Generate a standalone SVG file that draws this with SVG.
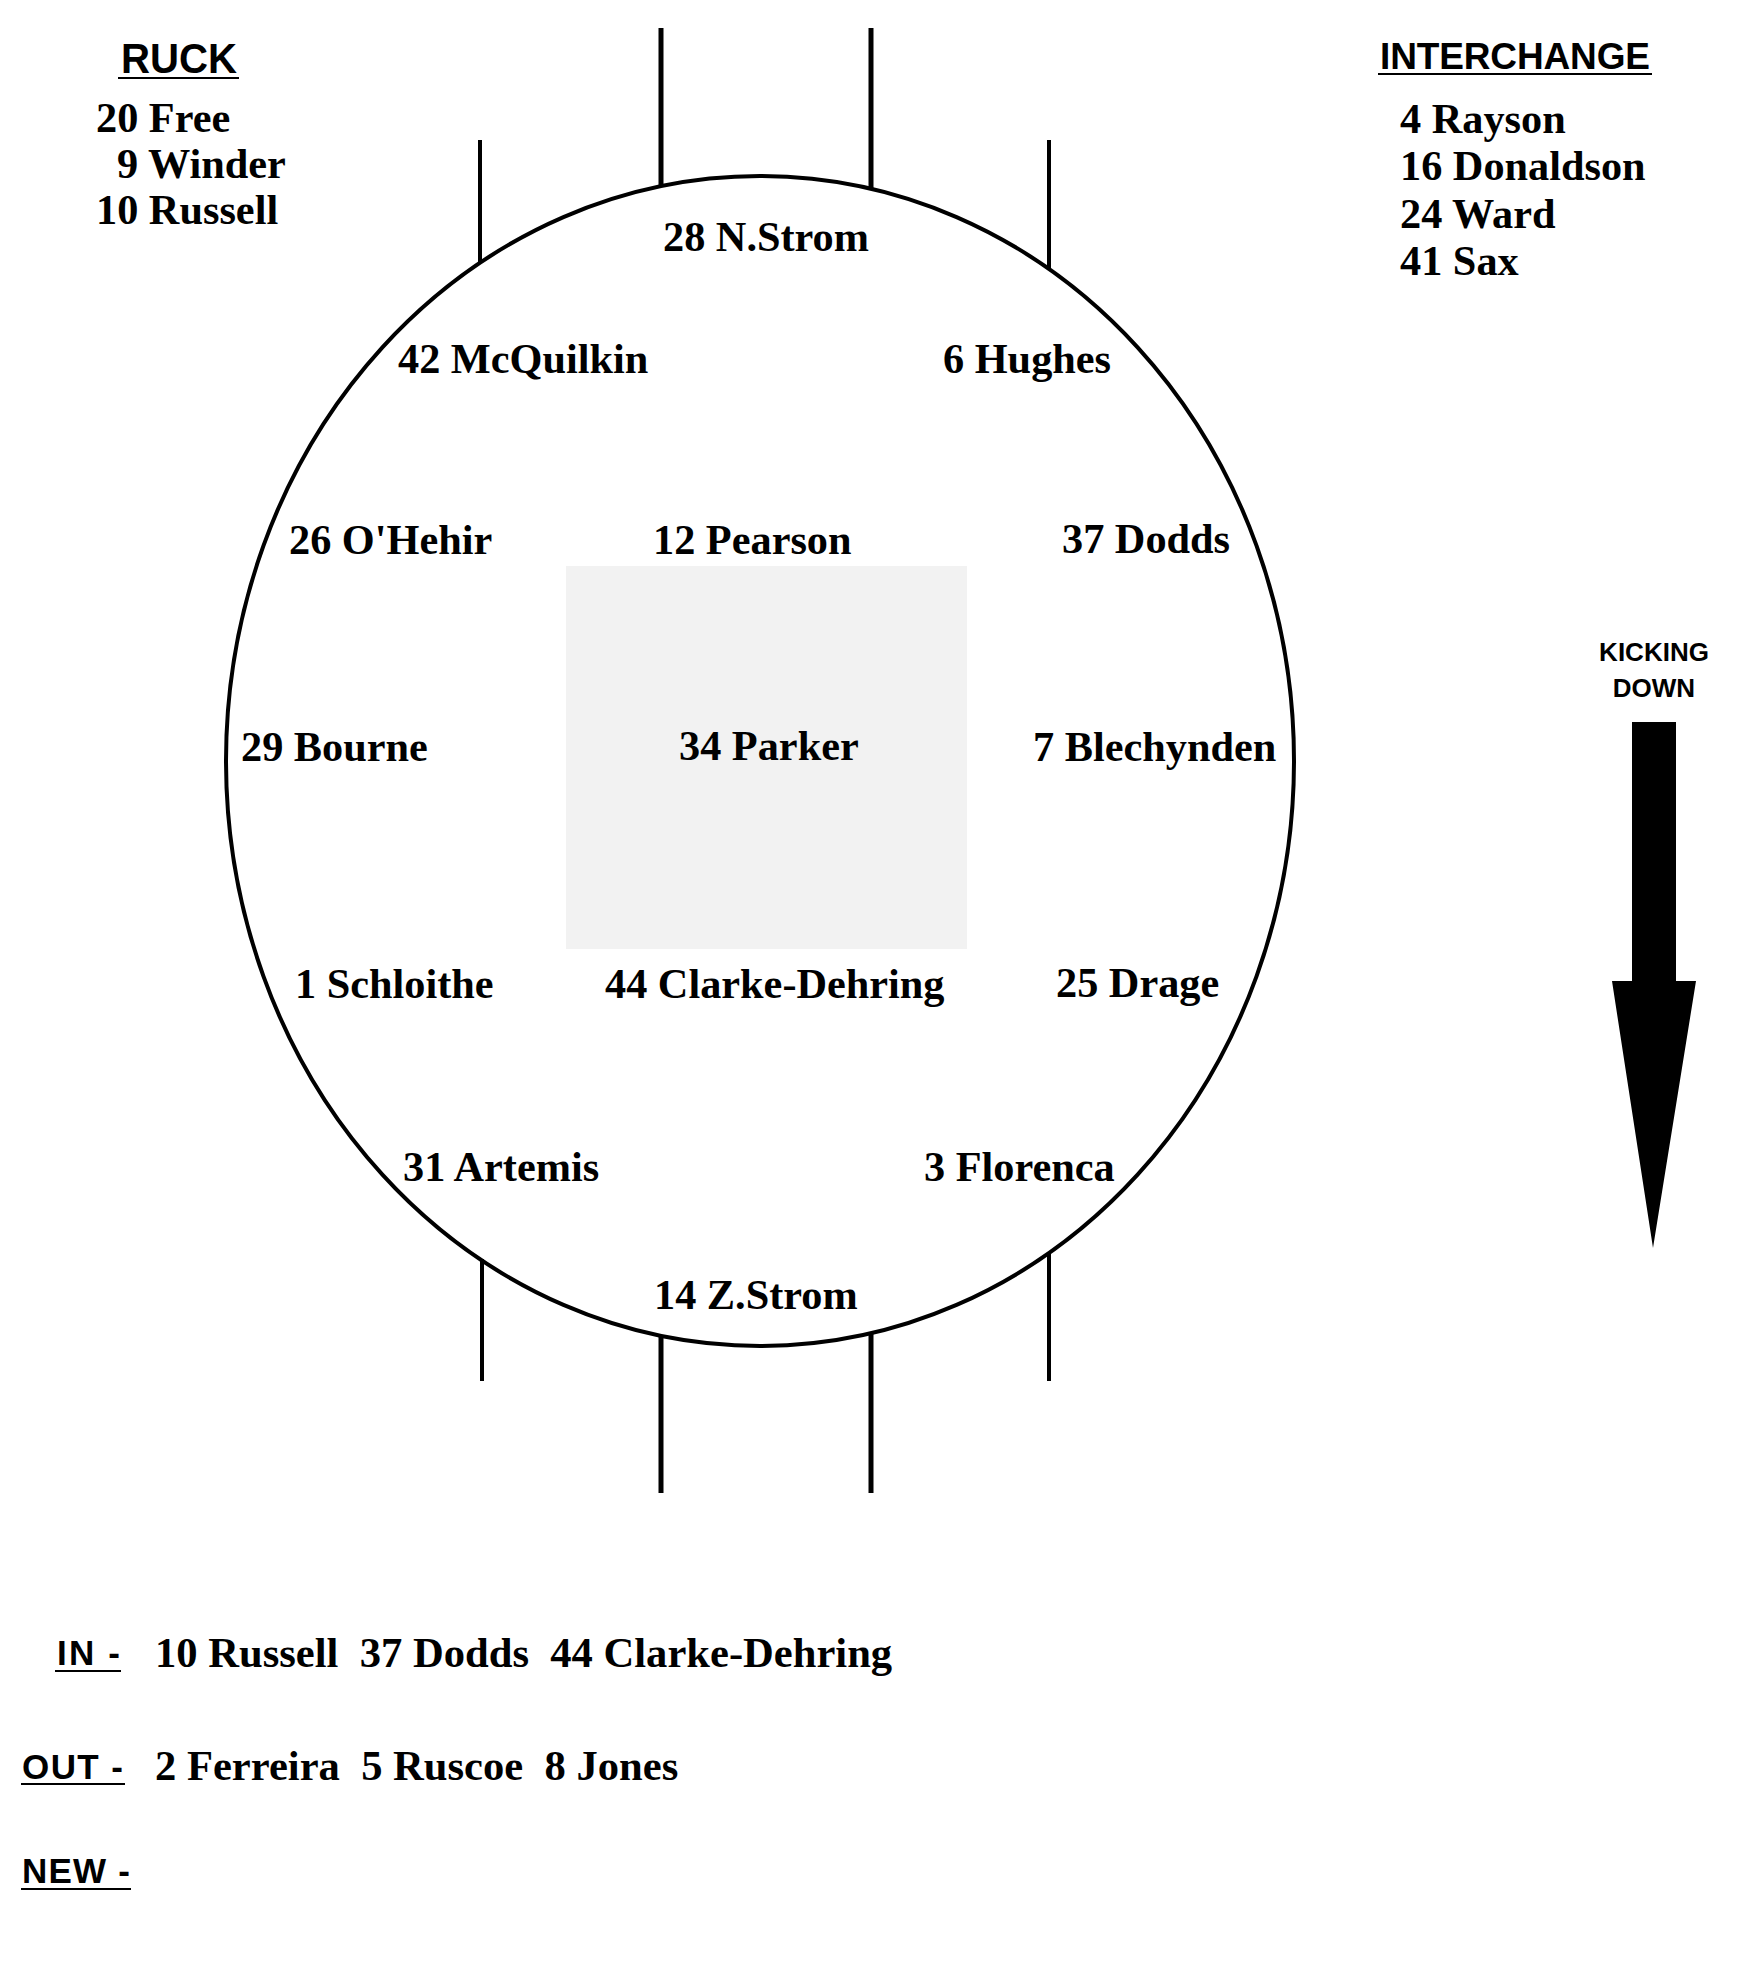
<svg xmlns="http://www.w3.org/2000/svg" width="1744" height="1976" viewBox="0 0 1744 1976">
<style>
.n{font-family:"Liberation Serif","Times New Roman",serif;font-weight:bold;font-size:42.3px;fill:#000}
.b{font-size:42.6px}
.h{font-family:"Liberation Sans",Arial,sans-serif;font-weight:bold;fill:#000}
.post{stroke:#000;fill:none}
.ul{stroke:#000;stroke-width:2}
</style>
<rect width="1744" height="1976" fill="#fff"/>
<g id="field">
<rect x="566" y="566" width="401" height="383" fill="#f2f2f2"/>
<ellipse cx="760" cy="761" rx="534" ry="585" fill="none" stroke="#000" stroke-width="4"/>
</g>
<g id="posts">
<line class="post" x1="661" y1="28" x2="661" y2="187" stroke-width="5"/>
<line class="post" x1="871" y1="28" x2="871" y2="190" stroke-width="5"/>
<line class="post" x1="480" y1="140" x2="480" y2="263" stroke-width="4"/>
<line class="post" x1="1049" y1="140" x2="1049" y2="269" stroke-width="4"/>
<line class="post" x1="661" y1="1335" x2="661" y2="1493" stroke-width="5"/>
<line class="post" x1="871" y1="1332" x2="871" y2="1493" stroke-width="5"/>
<line class="post" x1="482" y1="1259" x2="482" y2="1381" stroke-width="4"/>
<line class="post" x1="1049" y1="1253" x2="1049" y2="1381" stroke-width="4"/>
</g>
<g id="players">
<text id="p28" class="n" x="663" y="251">28 N.Strom</text>
<text id="p42" class="n" x="398" y="373">42 McQuilkin</text>
<text id="p6" class="n" x="943" y="373">6 Hughes</text>
<text id="p26" class="n" x="289" y="554">26 O'Hehir</text>
<text id="p12" class="n" x="653" y="554">12 Pearson</text>
<text id="p37" class="n" x="1062" y="553">37 Dodds</text>
<text id="p29" class="n" x="241" y="761">29 Bourne</text>
<text id="p34" class="n" x="679" y="760">34 Parker</text>
<text id="p7" class="n" x="1033" y="761">7 Blechynden</text>
<text id="p1" class="n" x="295" y="998">1 Schloithe</text>
<text id="p44" class="n" x="605" y="998">44 Clarke-Dehring</text>
<text id="p25" class="n" x="1056" y="997">25 Drage</text>
<text id="p31" class="n" x="403" y="1181">31 Artemis</text>
<text id="p3" class="n" x="924" y="1181">3 Florenca</text>
<text id="p14" class="n" x="654" y="1309">14 Z.Strom</text>
</g>
<g id="ruck">
<text class="h" x="121" y="73" font-size="42" textLength="116" lengthAdjust="spacingAndGlyphs">RUCK</text>
<line class="ul" x1="118" y1="78" x2="239" y2="78"/>
<text class="n" x="96" y="132">20 Free</text>
<text class="n" x="117" y="178">9 Winder</text>
<text class="n" x="96" y="224">10 Russell</text>
</g>
<g id="interchange">
<text class="h" x="1380" y="69" font-size="37" textLength="270" lengthAdjust="spacing">INTERCHANGE</text>
<line class="ul" x1="1378" y1="74" x2="1652" y2="74"/>
<text class="n" x="1400" y="133">4 Rayson</text>
<text class="n" x="1400" y="180">16 Donaldson</text>
<text class="n" x="1400" y="228">24 Ward</text>
<text class="n" x="1400" y="275">41 Sax</text>
</g>
<g id="kicking">
<text class="h" x="1654" y="661" font-size="26" text-anchor="middle">KICKING</text>
<text class="h" x="1654" y="697" font-size="26" text-anchor="middle">DOWN</text>
<polygon points="1632,722 1676,722 1676,981 1696,981 1653,1248 1612,981 1632,981" fill="#000"/>
</g>
<g id="changes">
<text class="h" x="57" y="1665" font-size="35" textLength="63" lengthAdjust="spacing">IN -</text>
<line class="ul" x1="55" y1="1671" x2="121" y2="1671"/>
<text class="n b" x="155" y="1667" xml:space="preserve">10 Russell  37 Dodds  44 Clarke-Dehring</text>
<text class="h" x="22" y="1779" font-size="35" textLength="101" lengthAdjust="spacing">OUT -</text>
<line class="ul" x1="21" y1="1784" x2="125" y2="1784"/>
<text class="n b" x="155" y="1780" xml:space="preserve">2 Ferreira  5 Ruscoe  8 Jones</text>
<text class="h" x="22" y="1883" font-size="35" textLength="108" lengthAdjust="spacing">NEW -</text>
<line class="ul" x1="21" y1="1889" x2="131" y2="1889"/>
</g>
</svg>
